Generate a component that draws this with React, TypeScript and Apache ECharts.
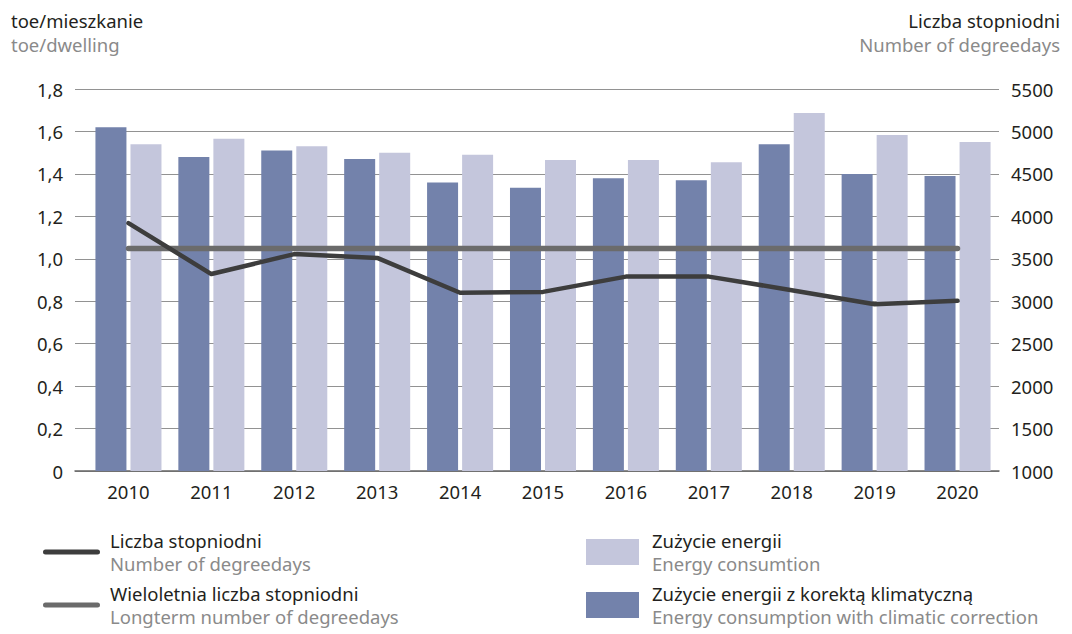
import React, { useEffect, useRef } from "react";
import * as echarts from "echarts";

const years = ["2010", "2011", "2012", "2013", "2014", "2015", "2016", "2017", "2018", "2019", "2020"];
const energyCorrected = [1.62, 1.48, 1.51, 1.47, 1.36, 1.335, 1.38, 1.37, 1.54, 1.40, 1.39];
const energy = [1.54, 1.565, 1.53, 1.50, 1.49, 1.465, 1.465, 1.455, 1.687, 1.583, 1.55];
const degreeDays = [3920, 3320, 3555, 3510, 3100, 3110, 3290, 3290, 3130, 2965, 3005];
const longtermDegreeDays = [3620, 3620, 3620, 3620, 3620, 3620, 3620, 3620, 3620, 3620, 3620];

const leftTicks = { min: 0, max: 1.8, interval: 0.2 };
const rightTicks = { min: 1000, max: 5500, interval: 500 };

const NAME_DD = "Liczba stopniodni";
const NAME_LT = "Wieloletnia liczba stopniodni";
const NAME_E = "Zużycie energii";
const NAME_EC = "Zużycie energii z korektą klimatyczną";

const english: Record<string, string> = {
  [NAME_DD]: "Number of degreedays",
  [NAME_LT]: "Longterm number of degreedays",
  [NAME_E]: "Energy consumtion",
  [NAME_EC]: "Energy consumption with climatic correction",
};

const FONT = "'Noto Sans', 'Open Sans', sans-serif";
const DARK_TEXT = "#231f20";
const GREY_TEXT = "#8a8a8a";
const C_DARK_BAR = "#7382ab";
const C_LIGHT_BAR = "#c4c6dc";
const C_DD = "#3d3d3d";
const C_LT = "#6b6b6b";

const linePath = "path://M2.5,0H54.5A2.5,2.5,0,0,1,54.5,5H2.5A2.5,2.5,0,0,1,2.5,0Z";

const legendRich = {
  a: { fontSize: 18.5, color: DARK_TEXT, fontFamily: FONT, lineHeight: 23 },
  b: { fontSize: 18.5, color: GREY_TEXT, fontFamily: FONT, lineHeight: 23 },
};

const legendFormatter = (name: string) => `{a|${name}}\n{b|${english[name]}}`;

export default function App() {
  const ref = useRef<HTMLDivElement>(null);
  useEffect(() => {
    document.body.style.margin = "0";
    if (!ref.current) return;
    const chart = echarts.init(ref.current, null, { renderer: "svg" });
    const option: any = {
      animation: false,
      backgroundColor: "#ffffff",
      textStyle: { fontFamily: FONT },
      title: [
        {
          left: 11,
          top: 11,
          padding: 0,
          itemGap: 5,
          text: "toe/mieszkanie",
          subtext: "toe/dwelling",
          textStyle: { fontSize: 18.5, fontWeight: "normal", color: DARK_TEXT, fontFamily: FONT },
          subtextStyle: { fontSize: 18.5, color: GREY_TEXT, fontFamily: FONT },
        },
      ],
      graphic: [
        {
          type: "text",
          right: 12,
          top: 11,
          style: { text: "Liczba stopniodni", fontSize: 18.5, fill: DARK_TEXT, fontFamily: FONT },
        },
        {
          type: "text",
          right: 12,
          top: 35,
          style: { text: "Number of degreedays", fontSize: 18.5, fill: GREY_TEXT, fontFamily: FONT },
        },
      ],
      legend: [
        {
          orient: "vertical",
          left: 43,
          top: 531,
          padding: 0,
          itemWidth: 57,
          itemHeight: 26,
          itemGap: 11,
          selectedMode: false,
          itemStyle: { borderWidth: 0 },
          data: [
            { name: NAME_DD, icon: linePath, itemStyle: { color: C_DD, borderWidth: 0 } },
            { name: NAME_LT, icon: linePath, itemStyle: { color: C_LT, borderWidth: 0 } },
          ],
          formatter: legendFormatter,
          textStyle: { rich: legendRich, padding: [0, 0, 0, 5] },
        },
        {
          orient: "vertical",
          left: 586,
          top: 531,
          padding: 0,
          itemWidth: 53,
          itemHeight: 26,
          itemGap: 11,
          selectedMode: false,
          itemStyle: { borderWidth: 0 },
          data: [
            { name: NAME_E, icon: "rect" },
            { name: NAME_EC, icon: "rect" },
          ],
          formatter: legendFormatter,
          textStyle: { rich: legendRich, padding: [0, 0, 0, 8] },
        },
      ],
      grid: [
        { left: 75, right: 73, top: 89, bottom: 163 },
        { left: 87, right: 73, top: 89, bottom: 163 },
      ],
      xAxis: [
        {
          gridIndex: 0,
          type: "value",
          min: 0,
          max: 1,
          axisLine: { show: true, lineStyle: { color: "#666666", width: 1.5 } },
          axisTick: { show: false },
          axisLabel: { show: false },
          splitLine: { show: false },
        },
        {
          gridIndex: 1,
          type: "category",
          data: years,
          axisLine: { show: false },
          axisTick: { show: false },
          axisLabel: { color: DARK_TEXT, fontSize: 18.5, fontFamily: FONT, margin: 11 },
        },
      ],
      yAxis: [
        {
          gridIndex: 0,
          type: "value",
          ...leftTicks,
          axisLine: { show: false },
          axisTick: { show: false },
          axisLabel: {
            color: DARK_TEXT,
            fontSize: 18.5,
            fontFamily: FONT,
            margin: 12,
            formatter: (v: number) => (v === 0 ? "0" : v.toFixed(1).replace(".", ",")),
          },
          splitLine: { show: true, lineStyle: { color: "#929292", width: 1 } },
        },
        {
          gridIndex: 1,
          type: "value",
          ...leftTicks,
          show: false,
          splitLine: { show: false },
        },
        {
          gridIndex: 1,
          type: "value",
          position: "right",
          ...rightTicks,
          axisLine: { show: false },
          axisTick: { show: false },
          axisLabel: {
            color: DARK_TEXT,
            fontSize: 18.5,
            fontFamily: FONT,
            margin: 12,
            formatter: (v: number) => String(v),
          },
          splitLine: { show: false },
        },
      ],
      series: [
        {
          name: NAME_EC,
          type: "bar",
          xAxisIndex: 1,
          yAxisIndex: 1,
          data: energyCorrected,
          barWidth: 31,
          barGap: "13%",
          itemStyle: { color: C_DARK_BAR },
        },
        {
          name: NAME_E,
          type: "bar",
          xAxisIndex: 1,
          yAxisIndex: 1,
          data: energy,
          barWidth: 31,
          barGap: "13%",
          itemStyle: { color: C_LIGHT_BAR },
        },
        {
          name: NAME_LT,
          type: "line",
          xAxisIndex: 1,
          yAxisIndex: 2,
          data: longtermDegreeDays,
          symbol: "none",
          color: C_LT,
          lineStyle: { color: C_LT, width: 5.5, cap: "round" },
          z: 3,
        },
        {
          name: NAME_DD,
          type: "line",
          xAxisIndex: 1,
          yAxisIndex: 2,
          data: degreeDays,
          symbol: "none",
          color: C_DD,
          lineStyle: { color: C_DD, width: 4.5, cap: "round", join: "round" },
          z: 4,
        },
      ],
    };
    chart.setOption(option);
    return () => chart.dispose();
  }, []);
  return <div ref={ref} style={{ width: 1072, height: 634 }} />;
}
